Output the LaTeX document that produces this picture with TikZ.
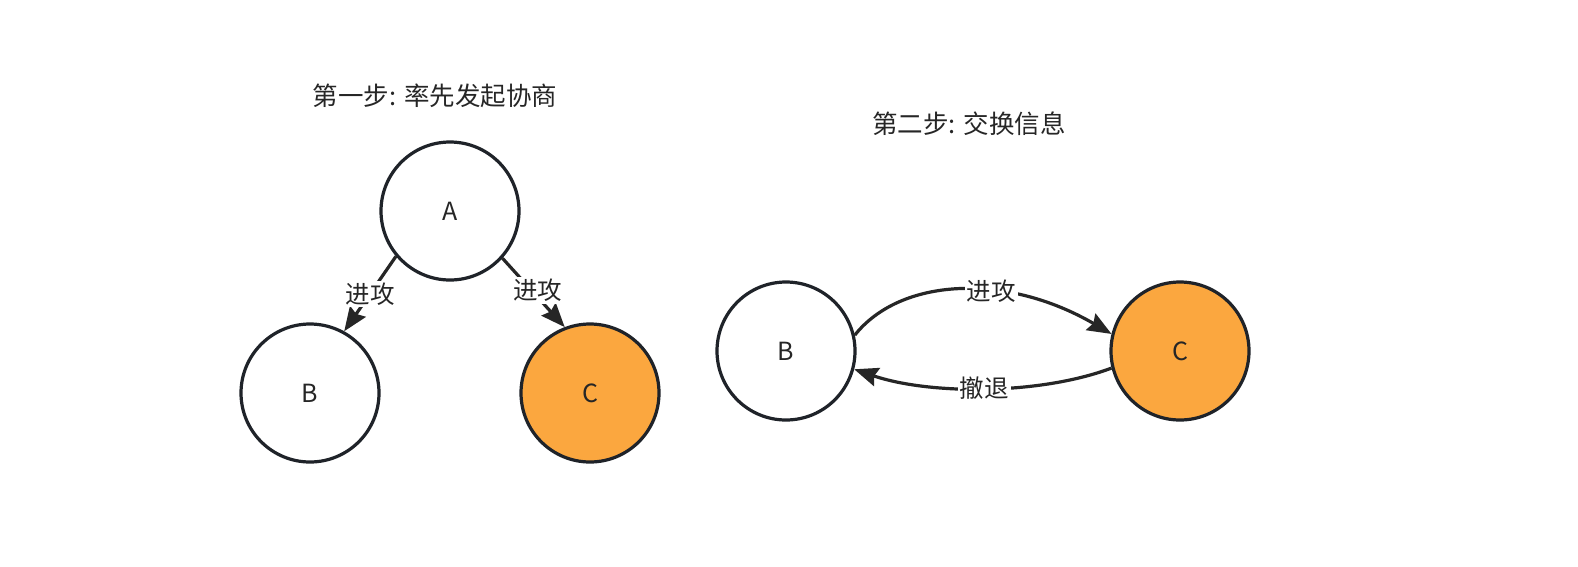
\documentclass[tikz,border=0pt]{standalone}
\usepackage{fontspec}
\setmainfont{Noto Sans CJK SC}
\usetikzlibrary{arrows.meta}
\definecolor{edge}{HTML}{1F2329}
\definecolor{ink}{HTML}{262626}
\definecolor{orng}{HTML}{FBA73F}
\tikzset{
  nd/.style={circle, draw=edge, line width=3.2pt, minimum size=138pt, inner sep=0pt, fill=white, text=ink, font=\fontsize{25}{27}\selectfont},
  hot/.style={nd, fill=orng},
  conn/.style={draw=ink, line width=3.2pt, -{Stealth[length=24pt,width=19pt,inset=3pt]}},
  lbl/.style={fill=white, inner sep=2pt, text=ink, font=\fontsize{24.5}{26}\selectfont},
  ttl/.style={text=ink, font=\fontsize{25.5}{28}\selectfont}
}
\begin{document}
\begin{tikzpicture}[x=1pt,y=-1pt]
\useasboundingbox[fill=white] (0,0) rectangle (1578,566);
\node[ttl] (t1) at (435,96) {第一步: 率先发起协商};
\node[ttl] (t2) at (969,124) {第二步: 交换信息};
\node[nd] (A) at (450,211) {A};
\node[nd] (B1) at (310,393) {B};
\node[hot] (C1) at (590,393) {C};
\node[nd] (B2) at (786,351) {B};
\node[hot] (C2) at (1180,351) {C};
\draw[conn] (A.220) -- node[lbl] {进攻} (B1.61);
\draw[conn] (A.318) -- node[lbl, pos=0.47, xshift=6pt] {进攻} (C1.111);
\draw[conn] (B2.13) .. controls (900,278) and (1005,272) .. node[lbl, pos=0.61] {进攻} (C2.166);
\draw[conn] (C2.194) .. controls (1040,395) and (930,395) .. node[lbl, pos=0.5] {撤退} (B2.345);
\end{tikzpicture}
\end{document}
